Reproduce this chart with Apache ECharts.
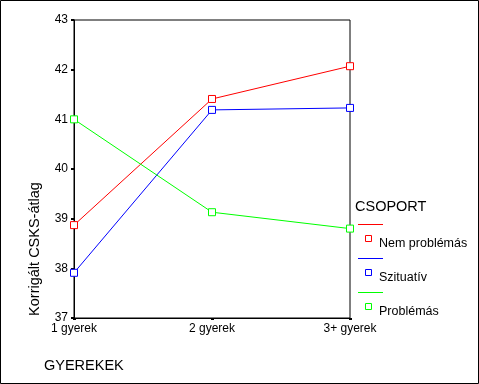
<!DOCTYPE html>
<html>
<head>
<meta charset="utf-8">
<script src="https://cdn.jsdelivr.net/npm/echarts@6/dist/echarts.min.js"></script>
<style>
html,body{margin:0;padding:0;background:#fff;}
#c{width:479px;height:384px;}
</style>
</head>
<body>
<div id="c"></div>
<script>
const categories = ['1 gyerek', '2 gyerek', '3+ gyerek'];
const nemProblemas = [38.87, 41.41, 42.07];
const szituativ = [37.91, 41.19, 41.23];
const problemas = [41.0, 39.13, 38.80];
const seriesNames = ['Nem problémás', 'Szituatív', 'Problémás'];
const seriesColors = ['#ff0000', '#0000ff', '#00ff00'];
const seriesData = [nemProblemas, szituativ, problemas];
const yMin = 37, yMax = 43, yStep = 1;
const legendTitle = 'CSOPORT';
const xTitle = 'GYEREKEK';
const yTitle = 'Korrigált CSKS-átlag';

const FONT = "'Liberation Sans', Arial, sans-serif";
const chart = echarts.init(document.getElementById('c'), null, {renderer: 'canvas'});

const legendGraphics = [];
seriesNames.forEach((name, i) => {
  const off = i * 34;
  legendGraphics.push({
    type: 'line', shape: {x1: 358, y1: 224.5 + off, x2: 383, y2: 224.5 + off},
    style: {stroke: seriesColors[i], lineWidth: 1}
  });
  legendGraphics.push({
    type: 'rect', shape: {x: 365.5, y: 235.5 + off, width: 6, height: 6},
    style: {stroke: seriesColors[i], fill: '#fff', lineWidth: 1}
  });
  legendGraphics.push({
    type: 'text', x: 379, y: 243.5 + off,
    style: {text: name, font: '12.5px ' + FONT, fill: '#000', verticalAlign: 'middle', align: 'left'}
  });
});

chart.setOption({
  animation: false,
  backgroundColor: '#fff',
  grid: {left: 74, right: 129, top: 20, bottom: 66, show: true, borderColor: '#000', borderWidth: 1, containLabel: false},
  xAxis: {
    type: 'category', data: categories, boundaryGap: false,
    axisLine: {lineStyle: {color: '#000', width: 1}},
    axisTick: {show: true, length: 2, lineStyle: {color: '#000', width: 3}},
    axisLabel: {color: '#000', fontSize: 12, fontFamily: FONT, margin: 5, interval: 0},
    splitLine: {show: false}
  },
  yAxis: {
    type: 'value', min: yMin, max: yMax, interval: yStep,
    axisLine: {show: true, lineStyle: {color: '#000', width: 1}},
    axisTick: {show: true, length: 3, lineStyle: {color: '#000', width: 2}},
    axisLabel: {color: '#000', fontSize: 12, fontFamily: FONT, margin: 6},
    splitLine: {show: false}
  },
  series: seriesData.map((d, i) => ({
    type: 'line', name: seriesNames[i], data: d,
    symbol: 'rect', symbolSize: 7, showSymbol: true,
    lineStyle: {color: seriesColors[i], width: 1},
    itemStyle: {color: '#fff', borderColor: seriesColors[i], borderWidth: 1},
    emphasis: {disabled: true}
  })),
  graphic: [
    {type: 'rect', shape: {x: 0.5, y: 0.5, width: 478, height: 383}, style: {stroke: '#000', fill: null, lineWidth: 1}, z: 100},
    {type: 'text', x: 35, y: 249, rotation: Math.PI / 2,
      style: {text: yTitle, font: '14.5px ' + FONT, fill: '#000', align: 'center', verticalAlign: 'middle'}},
    {type: 'text', x: 44, y: 366,
      style: {text: xTitle, font: '14.5px ' + FONT, fill: '#000', align: 'left', verticalAlign: 'middle'}},
    {type: 'text', x: 355, y: 207,
      style: {text: legendTitle, font: '14.5px ' + FONT, fill: '#000', align: 'left', verticalAlign: 'middle'}}
  ].concat(legendGraphics)
});
</script>
</body>
</html>
